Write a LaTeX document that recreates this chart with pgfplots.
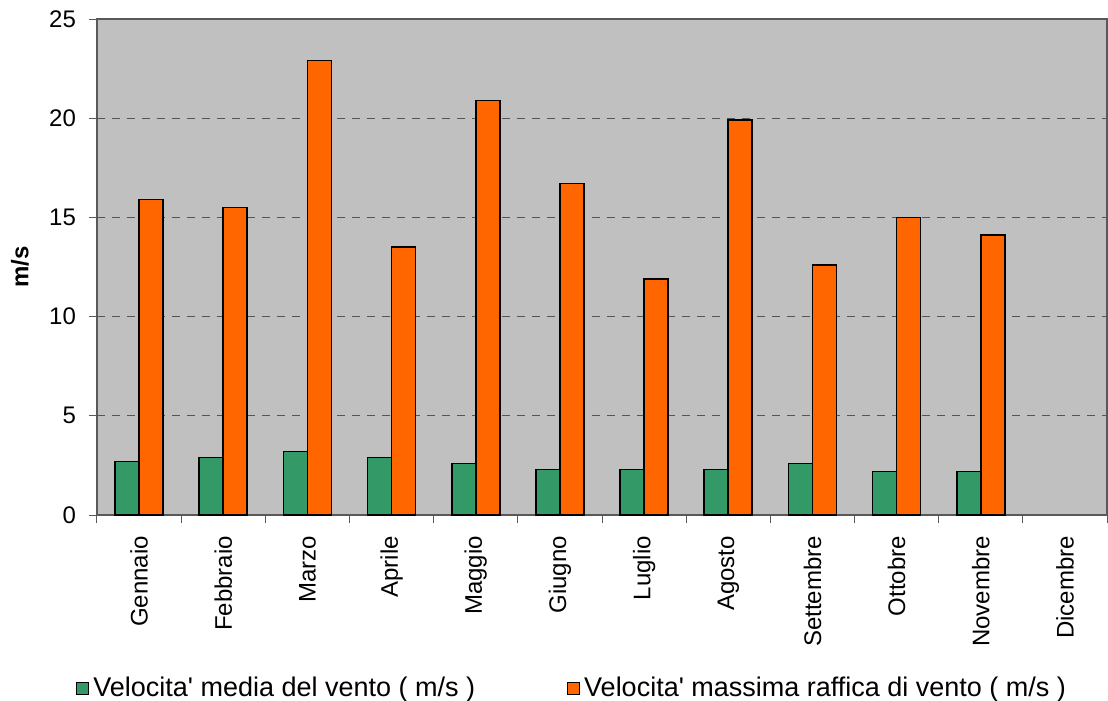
\documentclass[border=0pt]{standalone}
\usepackage{pgfplots}
\pgfplotsset{compat=1.18}
\usepackage{fontspec}
\setmainfont{Liberation Sans}
\definecolor{sfondo}{HTML}{C0C0C0}
\definecolor{verde}{HTML}{339966}
\definecolor{arancio}{HTML}{FF6600}
\definecolor{griglia}{HTML}{555555}
\newcommand{\fs}{\fontsize{12}{14}\selectfont}
\newcommand{\fl}{\fontsize{13.5}{15}\selectfont}

\begin{document}
\begin{tikzpicture}
\begin{axis}[
    at={(0,0)}, anchor=south west,
    scale only axis, width=505pt, height=248pt,
    xmin=-0.5, xmax=11.5, ymin=0, ymax=25,
    ybar=0pt, bar width=12pt,
    axis background/.style={fill=sfondo},
    axis line style={black!65, line width=0.6pt},
    tick align=outside, tick pos=left,
    major tick length=4pt,
    tick style={black!65, line width=0.5pt},
    xtick={-0.5,0.5,...,11.5},
    xticklabels={},
    extra x ticks={0,1,...,11},
    extra x tick labels={Gennaio,Febbraio,Marzo,Aprile,Maggio,Giugno,Luglio,Agosto,Settembre,Ottobre,Novembre,Dicembre},
    extra x tick style={major tick length=0pt, grid=none},
    x tick label style={rotate=90, anchor=east, font=\fs},
    xticklabel shift=7pt,
    ytick={0,5,...,25},
    y tick label style={font=\fs},
    yticklabel shift=3pt,
    /pgf/number format/assume math mode=true,
    ymajorgrids,
    grid style={griglia, line width=0.5pt, dash pattern=on 4pt off 3.5pt},
    legend columns=2,
    legend style={at={(axis description cs:0,0)}, anchor=west,
        xshift=-10.5pt, yshift=-86.5pt, draw=none, fill=none,
        inner sep=0pt, font=\fl,
        /tikz/every even column/.append style={column sep=44pt}},
    legend image code/.code={\draw[#1, draw=black, line width=0.5pt] (0pt,-3pt) rectangle (6pt,3pt);},
]
% Velocita' media
\addplot[fill=verde, draw=black, line width=0.8pt] coordinates {
    (0,2.7) (1,2.9) (2,3.2) (3,2.9) (4,2.6) (5,2.3)
    (6,2.3) (7,2.3) (8,2.6) (9,2.2) (10,2.2)
};
% Velocita' massima raffica
\addplot[fill=arancio, draw=black, line width=0.8pt] coordinates {
    (0,15.9) (1,15.5) (2,22.9) (3,13.5) (4,20.9) (5,16.7)
    (6,11.9) (7,19.9) (8,12.6) (9,15.0) (10,14.1)
};
\legend{Velocita\textquotesingle{} media del vento ( m/s ),Velocita\textquotesingle{} massima raffica di vento ( m/s )}
\end{axis}
\node[rotate=90, font=\bfseries\fs] at (-38.5pt,124pt) {m/s};
\pgfresetboundingbox
\path (-48.5pt,-93pt) rectangle (505.5pt,257.5pt);
\end{tikzpicture}
\end{document}
